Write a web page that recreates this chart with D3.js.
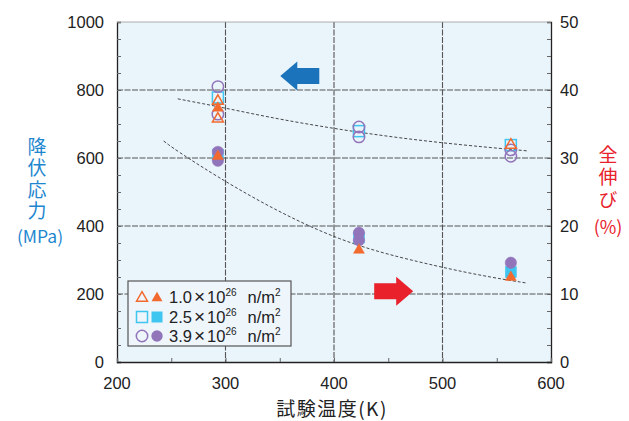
<!DOCTYPE html>
<html><head><meta charset="utf-8">
<script src="https://cdn.jsdelivr.net/npm/d3@7"></script>
<style>body{margin:0;background:#fff}svg{display:block}.vt{writing-mode:vertical-rl;text-orientation:upright}</style>
</head><body>
<script>
// ---- data ----
const xTicks = [200, 300, 400, 500, 600];
const yLeftTicks = [0, 200, 400, 600, 800, 1000];
const yRightTicks = [0, 10, 20, 30, 40, 50];
const fluenceLabels = ["1.0", "2.5", "3.9"];
// yield stress (MPa), open markers  [T(K), value]
const yieldTri = [[293, 770], [293, 718], [563, 641]];
const yieldSq = [[293, 778], [423, 679], [563, 638]];
const yieldCirc = [[293, 810], [293, 729], [423, 691], [423, 662], [563, 624], [563, 605]];
// total elongation (%), filled markers
const elongTri = [[293, 37.5], [293, 30.4], [423, 16.6], [563, 12.6]];
const elongSq = [[293, 30.5], [423, 18.3], [563, 13.2]];
const elongCirc = [[293, 30.9], [293, 29.6], [423, 19.0], [423, 17.9], [563, 14.6]];
// trend curves
const yieldTrend = [[256, 774], [300, 747], [350, 713], [424, 674], [498, 644], [578, 621]];
const elongTrend = [[243, 32.5], [258, 30.7], [325, 24.0], [406, 17.6], [480, 14.6], [535, 12.7], [578, 11.6]];
// arrow anchor points (tip), data units
const blueArrowTip = [350.5, 841];   // left axis
const redArrowTip = [473, 10.4];     // right axis

const W = 629, H = 421;
const svg = d3.select("body").append("svg").attr("width", W).attr("height", H);
const x = d3.scaleLinear([200, 600], [117, 551]);
const yL = d3.scaleLinear([0, 1000], [362, 22]);
const yR = d3.scaleLinear([0, 50], [362, 22]);

const cOr = "#f26a2e", cCy = "#3ec5f0", cPu = "#9274bb";
const font = "'Liberation Sans', Arial, sans-serif";
const jp = "'Noto Sans CJK JP', sans-serif";

// plot background
svg.append("rect").attr("x", x(200)).attr("y", yL(1000)).attr("width", x(600) - x(200)).attr("height", yL(0) - yL(1000)).attr("fill", "#eaf4fb");

// grid
const g = svg.append("g").attr("stroke", "#555").attr("stroke-width", 1.1).attr("stroke-dasharray", "6,1.5");
g.selectAll(".gx").data(xTicks.slice(1, -1)).join("line").attr("x1", d => x(d)).attr("x2", d => x(d)).attr("y1", yL(1000)).attr("y2", yL(0));
g.selectAll(".gy").data(yLeftTicks.slice(1, -1)).join("line").attr("x1", x(200)).attr("x2", x(600)).attr("y1", d => yL(d)).attr("y2", d => yL(d));

// axes
const axL = svg.append("g").attr("transform", `translate(${x(200)},0)`).call(d3.axisLeft(yL).tickValues(d3.range(0, 1001, 50)).tickSize(-4).tickFormat(""));
const axR = svg.append("g").attr("transform", `translate(${x(600)},0)`).call(d3.axisRight(yR).tickValues(d3.range(0, 50.1, 2.5)).tickSize(-4).tickFormat(""));
const axB = svg.append("g").attr("transform", `translate(0,${yL(0)})`).call(d3.axisBottom(x).tickValues(d3.range(200, 601, 50)).tickSize(-4).tickFormat(""));
[axL, axR, axB].forEach(a => { a.selectAll("path").attr("stroke", "#222").attr("stroke-width", 1.3); a.selectAll("line").attr("stroke", "#666"); });
svg.append("line").attr("x1", x(200)).attr("x2", x(600)).attr("y1", yL(1000)).attr("y2", yL(1000)).attr("stroke", "#999").attr("stroke-width", 0.8);

// tick labels
svg.selectAll(".tl").data(yLeftTicks).join("text").attr("x", 104).attr("y", d => yL(d) + 6).attr("text-anchor", "end")
  .attr("font-family", font).attr("font-size", 16.5).attr("fill", "#222").text(d => d);
svg.selectAll(".tr").data(yRightTicks).join("text").attr("x", 560).attr("y", d => yR(d) + 6).attr("text-anchor", "start")
  .attr("font-family", font).attr("font-size", 16.5).attr("fill", "#222").text(d => d);
svg.selectAll(".tb").data(xTicks).join("text").attr("x", d => x(d)).attr("y", 389).attr("text-anchor", "middle")
  .attr("font-family", font).attr("font-size", 16.5).attr("fill", "#222").text(d => d);

// axis titles
svg.append("text").attr("x", 332).attr("y", 416).attr("text-anchor", "middle").attr("font-family", jp).attr("font-size", 19)
  .attr("letter-spacing", 1.5).attr("fill", "#222").text("試験温度(K)");
svg.append("text").attr("class", "vt").attr("x", 37).attr("y", 137).attr("font-family", jp).attr("font-size", 19)
  .attr("letter-spacing", 2.5).attr("fill", "#1d86cf").text("降伏応力");
svg.append("text").attr("x", 40).attr("y", 243).attr("text-anchor", "middle").attr("font-family", jp).attr("font-size", 17.5).attr("fill", "#1d86cf").text("(MPa)");
svg.append("text").attr("class", "vt").attr("x", 608).attr("y", 145).attr("font-family", jp).attr("font-size", 19)
  .attr("letter-spacing", 3.5).attr("fill", "#e8212b").text("全伸び");
svg.append("text").attr("x", 608).attr("y", 234).attr("text-anchor", "middle").attr("font-family", jp).attr("font-size", 18).attr("fill", "#e8212b").text("(%)");

// trend lines
const lineL = d3.line().x(d => x(d[0])).y(d => yL(d[1])).curve(d3.curveBasis);
const lineR = d3.line().x(d => x(d[0])).y(d => yR(d[1])).curve(d3.curveBasis);
svg.append("path").attr("d", lineL(yieldTrend)).attr("fill", "none").attr("stroke", "#333").attr("stroke-width", 0.9).attr("stroke-dasharray", "3,2");
svg.append("path").attr("d", lineR(elongTrend)).attr("fill", "none").attr("stroke", "#333").attr("stroke-width", 0.9).attr("stroke-dasharray", "3,2");

// markers
const triPath = d3.symbol(d3.symbolTriangle, 52)();
function tri(sel, data, ys, filled) {
  sel.selectAll(null).data(data).join("path").attr("d", triPath)
    .attr("transform", d => `translate(${x(d[0])},${ys(d[1]) + 1})`)
    .attr("fill", filled ? cOr : "none").attr("stroke", cOr).attr("stroke-width", filled ? 0.5 : 1.5);
}
function sq(sel, data, ys, filled) {
  sel.selectAll(null).data(data).join("rect").attr("x", d => x(d[0]) - 5.5).attr("y", d => ys(d[1]) - 5.5).attr("width", 11).attr("height", 11)
    .attr("fill", filled ? cCy : "none").attr("stroke", cCy).attr("stroke-width", filled ? 0.5 : 1.5);
}
function circ(sel, data, ys, filled) {
  sel.selectAll(null).data(data).join("circle").attr("cx", d => x(d[0])).attr("cy", d => ys(d[1])).attr("r", 5.7)
    .attr("fill", filled ? cPu : "none").attr("stroke", cPu).attr("stroke-width", filled ? 0.5 : 1.5);
}
const m = svg.append("g");
sq(m, yieldSq, yL, false); circ(m, yieldCirc, yL, false); tri(m, yieldTri, yL, false);
sq(m, elongSq, yR, true); circ(m, elongCirc, yR, true); tri(m, elongTri, yR, true);

// arrows
function arrow(tip, ys, dir, color) {
  const tx = x(tip[0]), ty = ys(tip[1]);
  const hl = 17, hh = 14.5, bl = 22, bh = 8;
  const s = dir;
  const pts = [[tx, ty], [tx + s * hl, ty - hh], [tx + s * hl, ty - bh], [tx + s * (hl + bl), ty - bh], [tx + s * (hl + bl), ty + bh], [tx + s * hl, ty + bh], [tx + s * hl, ty + hh]];
  svg.append("path").attr("d", d3.line()(pts) + "Z").attr("fill", color);
}
arrow(blueArrowTip, yL, 1, "#1a73bb");
arrow(redArrowTip, yR, -1, "#e8212b");

// legend
const lg = svg.append("g");
lg.append("rect").attr("x", 128).attr("y", 281).attr("width", 163).attr("height", 65).attr("fill", "#eef5fb").attr("stroke", "#555").attr("stroke-width", 1.2);
const rows = [297, 317, 336];
rows.forEach((ry, i) => {
  const row = lg.append("g");
  const fakeX = 142, fakeX2 = 157;
  if (i === 0) {
    row.append("path").attr("d", triPath).attr("transform", `translate(${fakeX},${ry + 1})`).attr("fill", "none").attr("stroke", cOr).attr("stroke-width", 1.5);
    row.append("path").attr("d", triPath).attr("transform", `translate(${fakeX2},${ry + 1})`).attr("fill", cOr);
  } else if (i === 1) {
    row.append("rect").attr("x", fakeX - 5.5).attr("y", ry - 5.5).attr("width", 11).attr("height", 11).attr("fill", "none").attr("stroke", cCy).attr("stroke-width", 1.5);
    row.append("rect").attr("x", fakeX2 - 5.5).attr("y", ry - 5.5).attr("width", 11).attr("height", 11).attr("fill", cCy);
  } else {
    row.append("circle").attr("cx", fakeX).attr("cy", ry).attr("r", 5.7).attr("fill", "none").attr("stroke", cPu).attr("stroke-width", 1.5);
    row.append("circle").attr("cx", fakeX2).attr("cy", ry).attr("r", 5.7).attr("fill", cPu);
  }
  const t = row.append("text").attr("x", 169).attr("y", ry + 6).attr("font-family", font).attr("font-size", 16.5).attr("fill", "#222");
  t.append("tspan").text(fluenceLabels[i]);
  t.append("tspan").attr("dx", 2).attr("font-size", 19).text("×");
  t.append("tspan").attr("dx", 2).text("10");
  t.append("tspan").attr("dy", -7).attr("font-size", 10).text("26");
  t.append("tspan").attr("dy", 7).attr("dx", 11).text("n/m");
  t.append("tspan").attr("dy", -7).attr("font-size", 10).text("2");
});
</script>
</body></html>
